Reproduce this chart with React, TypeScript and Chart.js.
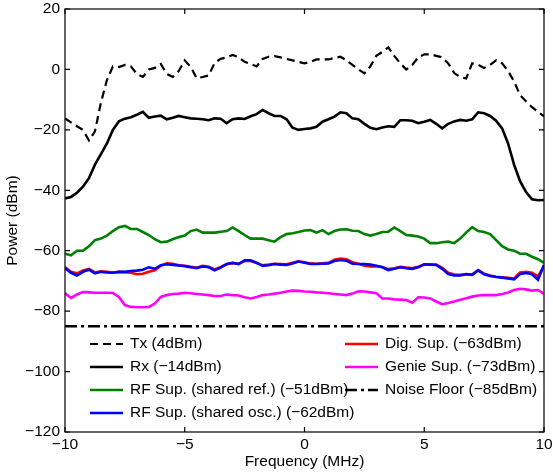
import React, { useEffect, useRef } from "react";
import { Chart, registerables } from "chart.js";

Chart.register(...registerables);

// Frequency grid (MHz)
const FREQ_MHZ = [
  -10, -9.75, -9.5, -9.25, -9, -8.75, -8.5, -8.25, -8, -7.75, -7.5, -7.25, -7, -6.75, -6.5, -6.25,
  -6, -5.75, -5.5, -5.25, -5, -4.75, -4.5, -4.25, -4, -3.75, -3.5, -3.25, -3, -2.75, -2.5, -2.25,
  -2, -1.75, -1.5, -1.25, -1, -0.75, -0.5, -0.25, 0, 0.25, 0.5, 0.75, 1, 1.25, 1.5, 1.75,
  2, 2.25, 2.5, 2.75, 3, 3.25, 3.5, 3.75, 4, 4.25, 4.5, 4.75, 5, 5.25, 5.5, 5.75,
  6, 6.25, 6.5, 6.75, 7, 7.25, 7.5, 7.75, 8, 8.25, 8.5, 8.75, 9, 9.25, 9.5, 9.75, 10,
];

const TX = [
  -16.2, -17.5, -18.8, -20, -23.5, -20.5, -11, -3.5, 1.0, 0.8, 1.5, 1.0, -1.5, -2.5, 0, 0.5,
  1.8, -1.5, -2.5, -0.5, 3.0, 0.8, -2.9, -2.5, -2.0, 2.2, 3.5, 4.0, 4.8, 4.0, 2.5, 1.8,
  1.0, 3.5, 4.2, 4.4, 4.0, 3.5, 3.0, 2.5, 2.0, 2.5, 3.3, 3.3, 3.3, 3.8, 4.2, 3.0,
  1.5, 0, -1.3, 1.0, 4.5, 5.8, 7.3, 4.5, 2.0, 0, 1.5, 4.0, 5.0, 5.0, 4.5, 4.0,
  2.0, -1.2, -2.5, -3.0, 2.0, 1.5, 0.5, 1.5, 3.0, 2.0, -0.5, -4, -8.5, -10.5, -12.5, -14, -15.5,
];

const RX = [
  -42.7, -42.2, -40.8, -38.8, -36, -31.5, -28, -24.5, -20, -17.2, -16.3, -15.8, -15, -14, -16, -15.6,
  -15.3, -16.5, -16, -15.4, -15.8, -16.2, -16.3, -16.5, -16.8, -16.2, -16.3, -17.8, -16.5, -16.2, -16.4, -15.5,
  -14.8, -13.4, -14.5, -15.4, -15.4, -16.5, -19.3, -20, -19.7, -19.5, -19, -17.3, -16.5, -15.6, -14.2, -14.5,
  -16.2, -16.5, -18, -19.3, -19.8, -19.2, -18.8, -19, -16.8, -16.8, -17, -17.8, -17.3, -16.7, -18, -19.5,
  -18, -17.2, -16.7, -17, -16.5, -14.2, -14.5, -15.4, -17, -19.5, -24.5, -31.5, -37, -40.6, -43, -43.3, -43.2,
];

const RF_SHARED_REF = [
  -61, -61.5, -60, -60, -58.5, -56.5, -56, -55, -53.5, -52.2, -51.8, -52.8, -52.8, -53.8, -54.8, -56.2,
  -57.2, -57, -56.2, -55.5, -55, -53.5, -53, -54, -54, -54, -53.7, -53.5, -52.3, -53.5, -54.8, -56,
  -56, -56, -56.5, -57, -55.5, -54.5, -54.2, -53.8, -53.3, -53.2, -54, -53.2, -54.5, -53.5, -53, -52.9,
  -53.4, -53.5, -54.5, -55, -54.5, -53.8, -53.7, -52.3, -53.5, -54.8, -55, -55.3, -56, -57.5, -57.5, -57.2,
  -57, -57.5, -56, -54, -52.2, -53.5, -53.8, -54.5, -56.5, -58.5, -59.6, -60, -61, -61, -62, -62.8, -64,
];

const RF_SHARED_OSC = [
  -65.8, -67.3, -68.2, -67, -66.3, -67.5, -67, -67.2, -67.3, -67, -67, -66.7, -66.6, -66.3, -65.5, -66,
  -64.8, -64.5, -64.7, -64.9, -65.1, -65.5, -65.8, -65.2, -65.5, -66.5, -65.6, -64.4, -64, -64.4, -63.2, -63.2,
  -64, -65, -64.8, -64.4, -64.6, -64.7, -64.2, -63.6, -64, -64.4, -64.4, -64.3, -64.2, -63.4, -63.1, -63.3,
  -64.3, -64.4, -64.4, -64.6, -65, -65.5, -66.4, -66, -65.5, -65.8, -66, -65.5, -64.5, -64.6, -64.7, -66,
  -67.7, -68.2, -68.2, -67.8, -68, -66.5, -67.8, -68.4, -68.7, -68.9, -69.2, -69.5, -67.7, -67.4, -67.8, -69.6, -64.7,
];

const DIG_SUP = [
  -65.5, -67, -67.5, -66.5, -66, -67.2, -66.8, -67, -67.2, -67, -67.1, -67.3, -67.8, -67.6, -67, -66.5,
  -65, -64.2, -64.3, -64.8, -65, -65.3, -65.6, -65, -65.3, -66.2, -65.4, -64.5, -64.1, -64.3, -63.4, -63.4,
  -64.1, -64.8, -64.6, -64.3, -64.4, -64.5, -64.0, -63.5, -63.8, -64.2, -64.3, -64.2, -64.0, -63.0, -62.6, -62.8,
  -63.8, -64.3, -65, -65.2, -65.1, -65.4, -66.1, -65.8, -65.3, -65.6, -65.8, -65.3, -64.6, -64.6, -64.6, -65.7,
  -67.3, -67.9, -68, -67.7, -67.9, -66.4, -67.6, -68.2, -68.6, -68.8, -69, -69.2, -67.2, -67, -67.3, -68.5, -65,
];

const GENIE_SUP = [
  -74.1, -75.6, -74.5, -73.7, -73.8, -73.9, -73.9, -73.9, -74, -75.3, -78, -78.6, -78.7, -78.7, -78.6, -77.5,
  -75.3, -74.7, -74.3, -74.2, -73.9, -74.1, -74.3, -74.5, -74.7, -75, -75, -74.5, -74.7, -74.8, -75.4, -75.8,
  -75.3, -74.7, -74.5, -74.2, -73.9, -73.5, -73.2, -73.3, -73.5, -73.6, -73.8, -73.9, -74.1, -74.3, -74.5, -74.7,
  -74.2, -73.4, -73.5, -73.8, -74.1, -75.8, -75.8, -76.1, -76.2, -76.3, -77.2, -75.4, -75.5, -75.8, -76.8, -77.7,
  -77.3, -76.8, -76.2, -75.7, -75.2, -74.8, -74.7, -74.7, -74.7, -74.3, -73.8, -73, -72.6, -72.8, -73.2, -73, -74.3,
];

const NOISE_FLOOR_DBM = -85;
const NOISE_FREQ = [-10, 10];

const Y_TICKS = [-120, -100, -80, -60, -40, -20, 0, 20];
const X_TICKS = [-10, -5, 0, 5, 10];

const LABELS = {
  tx: "Tx (4dBm)",
  rx: "Rx (\u221214dBm)",
  ref: "RF Sup. (shared ref.) (\u221251dBm)",
  osc: "RF Sup. (shared osc.) (\u221262dBm)",
  dig: "Dig. Sup. (\u221263dBm)",
  genie: "Genie Sup. (\u221273dBm)",
  noise: "Noise Floor (\u221285dBm)",
};

const FONT_FAMILY = "'Liberation Sans', Arial, Helvetica, sans-serif";
const FONT_SIZE = 15.5;

const toPts = (xs: number[], ys: number[]) => xs.map((x, i) => ({ x, y: ys[i] }));
const fmt = (v: number) => String(v).replace("-", "\u2212");

type LegendItem = { text: string; color: string; dash: number[]; width: number };

const framePlugin = {
  id: "matlabFrame",
  afterDraw(chart: any) {
    const { ctx, chartArea: a, scales } = chart;
    const xs = scales.x;
    const ys = scales.y;
    ctx.save();
    ctx.strokeStyle = "#000";
    ctx.lineWidth = 1.2;
    ctx.setLineDash([]);
    ctx.strokeRect(a.left, a.top, a.right - a.left, a.bottom - a.top);
    const tl = 5;
    ctx.beginPath();
    for (const v of X_TICKS) {
      const px = xs.getPixelForValue(v);
      ctx.moveTo(px, a.bottom);
      ctx.lineTo(px, a.bottom - tl);
      ctx.moveTo(px, a.top);
      ctx.lineTo(px, a.top + tl);
    }
    for (const v of Y_TICKS) {
      const py = ys.getPixelForValue(v);
      ctx.moveTo(a.left, py);
      ctx.lineTo(a.left + tl, py);
      ctx.moveTo(a.right, py);
      ctx.lineTo(a.right - tl, py);
    }
    ctx.stroke();

    // Legend (two columns, no box)
    const left: LegendItem[] = [
      { text: LABELS.tx, color: "#000", dash: [8, 5], width: 2.2 },
      { text: LABELS.rx, color: "#000", dash: [], width: 2.6 },
      { text: LABELS.ref, color: "#008000", dash: [], width: 2.6 },
      { text: LABELS.osc, color: "#0000ff", dash: [], width: 2.6 },
    ];
    const right: LegendItem[] = [
      { text: LABELS.dig, color: "#ff0000", dash: [], width: 2.6 },
      { text: LABELS.genie, color: "#ff00ff", dash: [], width: 2.6 },
      { text: LABELS.noise, color: "#000", dash: [12, 4, 3, 4], width: 2.4 },
    ];
    const rowY = [344, 367, 390, 413];
    const drawCol = (items: LegendItem[], x0: number) => {
      items.forEach((it, i) => {
        const y = rowY[i];
        ctx.beginPath();
        ctx.strokeStyle = it.color;
        ctx.lineWidth = it.width;
        ctx.setLineDash(it.dash);
        ctx.moveTo(x0, y);
        ctx.lineTo(x0 + 33, y);
        ctx.stroke();
        ctx.setLineDash([]);
        ctx.fillStyle = "#000";
        ctx.font = `${FONT_SIZE}px ${FONT_FAMILY}`;
        ctx.textBaseline = "middle";
        ctx.textAlign = "left";
        ctx.fillText(it.text, x0 + 40, y);
      });
    };
    drawCol(left, 90);
    drawCol(right, 345);
    ctx.restore();
  },
};

export default function App() {
  const ref = useRef<HTMLCanvasElement | null>(null);

  useEffect(() => {
    document.body.style.margin = "0";
    const canvas = ref.current;
    if (!canvas) return;
    const line = (label: string, data: any[], color: string, width: number, dash: number[] = []) => ({
      label,
      data,
      borderColor: color,
      backgroundColor: color,
      borderWidth: width,
      borderDash: dash,
      pointRadius: 0,
      tension: 0,
      fill: false,
    });
    const chart = new Chart(canvas, {
      type: "line",
      data: {
        datasets: [
          line(LABELS.tx, toPts(FREQ_MHZ, TX), "#000", 2.2, [8, 5]),
          line(LABELS.rx, toPts(FREQ_MHZ, RX), "#000", 2.6),
          line(LABELS.ref, toPts(FREQ_MHZ, RF_SHARED_REF), "#008000", 2.6),
          line(LABELS.osc, toPts(FREQ_MHZ, RF_SHARED_OSC), "#0000ff", 2.6),
          line(LABELS.dig, toPts(FREQ_MHZ, DIG_SUP), "#ff0000", 2.6),
          line(LABELS.genie, toPts(FREQ_MHZ, GENIE_SUP), "#ff00ff", 2.6),
          line(
            LABELS.noise,
            NOISE_FREQ.map((x) => ({ x, y: NOISE_FLOOR_DBM })),
            "#000",
            2.4,
            [12, 4, 3, 4]
          ),
        ],
      },
      options: {
        responsive: false,
        animation: false,
        events: [],
        layout: { padding: { top: 9, right: 9, left: 0, bottom: 0 } },
        plugins: {
          legend: { display: false },
          tooltip: { enabled: false },
          title: { display: false },
        },
        scales: {
          x: {
            type: "linear",
            min: -10,
            max: 10,
            afterBuildTicks: (s: any) => {
              s.ticks = X_TICKS.map((v) => ({ value: v }));
            },
            afterFit: (s: any) => {
              s.height = 43;
              s.paddingLeft = 0;
              s.paddingRight = 0;
            },
            grid: { display: false, drawTicks: false },
            border: { display: false },
            ticks: {
              color: "#000",
              padding: 3,
              maxRotation: 0,
              font: { size: FONT_SIZE, family: FONT_FAMILY },
              callback: (v: any) => fmt(v),
            },
            title: {
              display: true,
              text: "Frequency (MHz)",
              color: "#000",
              font: { size: FONT_SIZE, family: FONT_FAMILY },
              padding: { top: 0, bottom: 4 },
            },
          },
          y: {
            type: "linear",
            min: -120,
            max: 20,
            afterBuildTicks: (s: any) => {
              s.ticks = Y_TICKS.map((v) => ({ value: v }));
            },
            afterFit: (s: any) => {
              s.width = 65;
              s.paddingTop = 0;
              s.paddingBottom = 0;
            },
            grid: { display: false, drawTicks: false },
            border: { display: false },
            ticks: {
              color: "#000",
              padding: 5,
              font: { size: FONT_SIZE, family: FONT_FAMILY },
              callback: (v: any) => fmt(v),
            },
            title: {
              display: true,
              text: "Power (dBm)",
              color: "#000",
              font: { size: FONT_SIZE, family: FONT_FAMILY },
              padding: { top: 3, bottom: 0 },
            },
          },
        },
      },
      plugins: [framePlugin],
    } as any);
    return () => chart.destroy();
  }, []);

  return <canvas ref={ref} width={553} height={475} style={{ display: "block" }} />;
}
